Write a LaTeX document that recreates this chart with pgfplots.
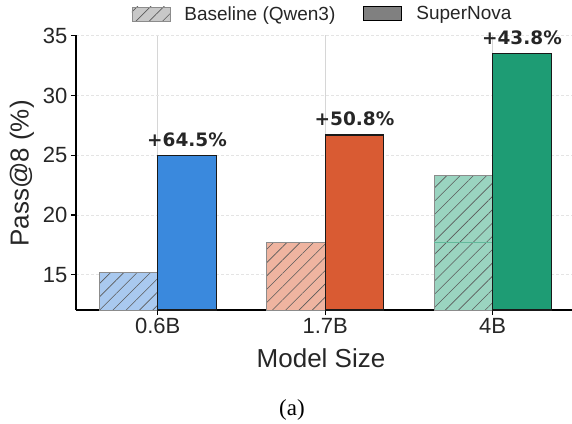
\documentclass[border=0pt]{standalone}
\usepackage{pgfplots}
\pgfplotsset{compat=1.18}
\usepackage{fontspec}
\setmainfont{Liberation Sans}
\newfontfamily\annotfont{DejaVu Sans}
\newfontfamily\capfont{Liberation Serif}
\usetikzlibrary{patterns.meta}

\definecolor{txt}{HTML}{262626}
\definecolor{blueS}{HTML}{3A89DD}
\definecolor{blueL}{HTML}{A9C9EF}
\definecolor{orangeS}{HTML}{D95B33}
\definecolor{orangeL}{HTML}{EFB4A0}
\definecolor{greenS}{HTML}{1E9C74}
\definecolor{greenL}{HTML}{9AD4C0}
\definecolor{edgeL}{HTML}{8C8C8C}
\definecolor{hatchc}{HTML}{5A5A5A}
\definecolor{gridv}{HTML}{D6D6D6}
\definecolor{gridh}{HTML}{E4E4E4}
\definecolor{legB}{HTML}{C8C8C8}
\definecolor{legS}{HTML}{808080}
\definecolor{seam}{HTML}{62B99B}

% bar width and offset are 0.35 axis units; the axis spans 2.962 units over 496pt
\pgfplotsset{
  basebar/.style={ybar, bar width=0.35, bar shift=-0.175, draw=edgeL, line width=0.8pt,
    postaction={pattern={Lines[angle=45,distance=9.4pt,line width=0.6pt]}, pattern color=hatchc}},
  novabar/.style={ybar, bar width=0.35, bar shift=0.175, draw=black!90, line width=1.1pt,
    nodes near coords={#1},
    every node near coord/.append style={anchor=base, inner sep=0pt, xshift=29.3pt, yshift=9pt,
      text=txt, font=\annotfont\bfseries\fontsize{18.5}{20}\selectfont}},
}

\begin{document}
\begin{tikzpicture}
\useasboundingbox (-76pt,-113pt) rectangle (496pt,310pt);
\begin{axis}[
  scale only axis, width=496pt, height=275.4pt,
  xmin=-0.488, xmax=2.474, ymin=12.05, ymax=35.1,
  axis x line=bottom, axis y line=left,
  axis line style={-, line width=1.6pt, black},
  xtick={0,1,2}, xticklabels={0.6B,1.7B,4B},
  ytick={15,20,25,30,35},
  tick align=outside, major tick length=5pt,
  tick style={line width=1.1pt, black},
  ticklabel style={font=\fontsize{22}{25}\selectfont, text=txt},
  /pgf/number format/assume math mode=true,
  xmajorgrids, ymajorgrids,
  x grid style={line width=0.8pt, color=gridv},
  y grid style={line width=0.7pt, color=gridh, dash pattern=on 3pt off 2pt},
  xlabel={Model Size}, ylabel={Pass@8 (\%)},
  every axis x label/.style={at={(rel axis cs:0.494,0)}, yshift=-48pt, anchor=center,
    font=\fontsize{26}{30}\selectfont, text=txt},
  every axis y label/.style={at={(rel axis cs:0,0.496)}, xshift=-54pt, anchor=center, rotate=90,
    font=\fontsize{26}{30}\selectfont, text=txt},
  legend style={draw=none, fill=none, at={(0.497,1.075)}, anchor=center,
    font=\fontsize{19}{22}\selectfont, text=txt,
    /tikz/every odd column/.append style={column sep=12pt},
    /tikz/every even column/.append style={column sep=26pt}},
  legend columns=2,
  legend image code/.code={\draw[#1] (0pt,-7pt) rectangle (38pt,7pt);},
]
% legend entries
\addlegendimage{fill=legB, draw=edgeL, line width=0.8pt,
  postaction={pattern={Lines[angle=45,distance=9.4pt,line width=0.6pt]}, pattern color=hatchc}}
\addlegendentry{Baseline (Qwen3)}
\addlegendimage{fill=legS, draw=black, line width=1pt}
\addlegendentry{SuperNova}

% 0.6B
\addplot[basebar, fill=blueL, forget plot] coordinates {(0,15.2)};
\addplot[novabar={+64.5\%}, fill=blueS, forget plot] coordinates {(0,25.0)};
% 1.7B
\addplot[basebar, fill=orangeL, forget plot] coordinates {(1,17.7)};
\addplot[novabar={+50.8\%}, fill=orangeS, forget plot] coordinates {(1,26.7)};
% 4B
\addplot[basebar, fill=greenL, forget plot] coordinates {(2,23.3)};
\addplot[forget plot, color=seam, line width=0.7pt] coordinates {(1.65,17.7) (2.0,17.7)};
\addplot[novabar={+43.8\%}, fill=greenS, forget plot] coordinates {(2,33.5)};
\end{axis}
\node[font=\capfont\fontsize{23}{26}\selectfont, text=black] at (216pt,-100pt) {(a)};
\end{tikzpicture}
\end{document}
